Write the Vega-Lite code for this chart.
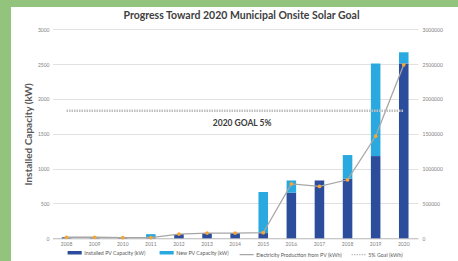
{
  "$schema": "https://vega.github.io/schema/vega-lite/v6.json",
  "width": 447,
  "height": 254,
  "autosize": {"type": "none"},
  "padding": {"left": 11, "top": 7, "right": 0, "bottom": 0},
  "background": "#93C47D",
  "config": {
    "font": "Lato",
    "view": {"fill": "white", "stroke": null},
    "axis": {"labelFont": "Lato", "titleFont": "Lato"}
  },
  "title": {
    "text": "Progress Toward 2020 Municipal Onsite Solar Goal",
    "fontSize": 10.5,
    "fontWeight": "bold",
    "color": "#404040",
    "anchor": "middle",
    "offset": -14,
    "dx": 7
  },
  "datasets": {
    "bars": [
      {"year": "2008", "series": "Installed PV Capacity (kW)", "kw": 15},
      {"year": "2009", "series": "Installed PV Capacity (kW)", "kw": 15},
      {"year": "2010", "series": "Installed PV Capacity (kW)", "kw": 10},
      {"year": "2011", "series": "Installed PV Capacity (kW)", "kw": 10},
      {"year": "2011", "series": "New PV Capacity (kW)", "kw": 50},
      {"year": "2012", "series": "Installed PV Capacity (kW)", "kw": 60},
      {"year": "2013", "series": "Installed PV Capacity (kW)", "kw": 75},
      {"year": "2014", "series": "Installed PV Capacity (kW)", "kw": 75},
      {"year": "2015", "series": "Installed PV Capacity (kW)", "kw": 75},
      {"year": "2015", "series": "New PV Capacity (kW)", "kw": 590},
      {"year": "2016", "series": "Installed PV Capacity (kW)", "kw": 655},
      {"year": "2016", "series": "New PV Capacity (kW)", "kw": 175},
      {"year": "2017", "series": "Installed PV Capacity (kW)", "kw": 830},
      {"year": "2018", "series": "Installed PV Capacity (kW)", "kw": 855},
      {"year": "2018", "series": "New PV Capacity (kW)", "kw": 340},
      {"year": "2019", "series": "Installed PV Capacity (kW)", "kw": 1180},
      {"year": "2019", "series": "New PV Capacity (kW)", "kw": 1330},
      {"year": "2020", "series": "Installed PV Capacity (kW)", "kw": 2510},
      {"year": "2020", "series": "New PV Capacity (kW)", "kw": 160}
    ],
    "production": [
      {"year": "2008", "series": "Electricity Production from PV (kWh)", "kwh": 15000},
      {"year": "2009", "series": "Electricity Production from PV (kWh)", "kwh": 15000},
      {"year": "2010", "series": "Electricity Production from PV (kWh)", "kwh": 10000},
      {"year": "2011", "series": "Electricity Production from PV (kWh)", "kwh": 10000},
      {"year": "2012", "series": "Electricity Production from PV (kWh)", "kwh": 60000},
      {"year": "2013", "series": "Electricity Production from PV (kWh)", "kwh": 75000},
      {"year": "2014", "series": "Electricity Production from PV (kWh)", "kwh": 75000},
      {"year": "2015", "series": "Electricity Production from PV (kWh)", "kwh": 80000},
      {"year": "2016", "series": "Electricity Production from PV (kWh)", "kwh": 780000},
      {"year": "2017", "series": "Electricity Production from PV (kWh)", "kwh": 745000},
      {"year": "2018", "series": "Electricity Production from PV (kWh)", "kwh": 840000},
      {"year": "2019", "series": "Electricity Production from PV (kWh)", "kwh": 1465000},
      {"year": "2020", "series": "Electricity Production from PV (kWh)", "kwh": 2490000}
    ],
    "goal": [
      {"year": "2008", "series": "5% Goal (kWh)", "kwh": 1830000},
      {"year": "2009", "series": "5% Goal (kWh)", "kwh": 1830000},
      {"year": "2010", "series": "5% Goal (kWh)", "kwh": 1830000},
      {"year": "2011", "series": "5% Goal (kWh)", "kwh": 1830000},
      {"year": "2012", "series": "5% Goal (kWh)", "kwh": 1830000},
      {"year": "2013", "series": "5% Goal (kWh)", "kwh": 1830000},
      {"year": "2014", "series": "5% Goal (kWh)", "kwh": 1830000},
      {"year": "2015", "series": "5% Goal (kWh)", "kwh": 1830000},
      {"year": "2016", "series": "5% Goal (kWh)", "kwh": 1830000},
      {"year": "2017", "series": "5% Goal (kWh)", "kwh": 1830000},
      {"year": "2018", "series": "5% Goal (kWh)", "kwh": 1830000},
      {"year": "2019", "series": "5% Goal (kWh)", "kwh": 1830000},
      {"year": "2020", "series": "5% Goal (kWh)", "kwh": 1830000}
    ],
    "note": [
      {"year": "2014", "kwh": 1660000, "label": "2020 GOAL 5%"}
    ]
  },
  "layer": [
    {
      "data": {"name": "bars"},
      "mark": {"type": "bar"},
      "encoding": {
        "x": {
          "field": "year",
          "type": "ordinal",
          "scale": {"range": [41.5, 406.8], "paddingInner": 0.66, "paddingOuter": 0.33},
          "axis": {
            "orient": "bottom",
            "offset": -22.7,
            "title": null,
            "labelAngle": 0,
            "labelFontSize": 5,
            "labelColor": "#808080",
            "labelPadding": 3,
            "ticks": false,
            "domainColor": "#BFBFBF",
            "domainWidth": 1,
            "grid": false
          }
        },
        "y": {
          "field": "kw",
          "type": "quantitative",
          "stack": "zero",
          "scale": {"domain": [0, 3000], "range": [231.3, 22.3], "nice": false, "zero": true},
          "axis": {
            "orient": "left",
            "offset": -41,
            "values": [0, 500, 1000, 1500, 2000, 2500, 3000],
            "format": "d",
            "title": "Installed Capacity (kW)",
            "titleFontSize": 10,
            "titleFontWeight": "bold",
            "titleColor": "#595959",
            "titlePadding": 4,
            "labelFontSize": 5,
            "labelColor": "#808080",
            "labelPadding": 3,
            "ticks": false,
            "domain": false,
            "grid": true,
            "gridColor": "#D9D9D9",
            "gridWidth": 0.8
          }
        },
        "color": {
          "field": "series",
          "type": "nominal",
          "scale": {
            "domain": ["Installed PV Capacity (kW)", "New PV Capacity (kW)", "Electricity Production from PV (kWh)", "5% Goal (kWh)"],
            "range": ["#2C4C9C", "#29A9E0", "#A6A6A6", "#BFBFBF"]
          },
          "legend": {
            "orient": "none",
            "legendX": 61,
            "legendY": 243,
            "direction": "horizontal",
            "columns": 4,
            "title": null,
            "labelFontSize": 5.3,
            "labelColor": "#595959",
            "labelOffset": 7,
            "columnPadding": 6,
            "symbolType": "stroke",
            "symbolSize": 200,
            "symbolStrokeWidth": 3.5,
            "encode": {
              "symbols": {
                "update": {
                  "stroke": {"signal": "scale('color', datum.value)"},
                  "strokeWidth": {"signal": "indexof(['Installed PV Capacity (kW)','New PV Capacity (kW)'], datum.value) >= 0 ? 3.5 : 1.3"},
                  "strokeDash": {"signal": "datum.value === '5% Goal (kWh)' ? [1.5, 1] : [1, 0]"}
                }
              }
            }
          }
        },
        "order": {"field": "series", "sort": "ascending"}
      }
    },
    {
      "layer": [
        {
          "data": {"name": "production"},
          "mark": {"type": "line", "strokeWidth": 1.3},
          "encoding": {
            "x": {"field": "year", "type": "ordinal"},
            "y": {
              "field": "kwh",
              "type": "quantitative",
              "scale": {"domain": [0, 3000000], "range": [231.3, 22.3], "nice": false},
              "axis": {
                "orient": "right",
                "offset": -40,
                "values": [0, 500000, 1000000, 1500000, 2000000, 2500000, 3000000],
                "format": "d",
                "title": null,
                "labelFontSize": 5,
                "labelColor": "#808080",
                "labelPadding": 4,
                "ticks": false,
                "domain": false,
                "grid": false
              }
            },
            "color": {"field": "series", "type": "nominal"}
          }
        },
        {
          "data": {"name": "production"},
          "mark": {"type": "point", "filled": true, "color": "#F4A535", "size": 14, "opacity": 1},
          "encoding": {
            "x": {"field": "year", "type": "ordinal"},
            "y": {"field": "kwh", "type": "quantitative"}
          }
        },
        {
          "data": {"name": "goal"},
          "mark": {"type": "line", "strokeWidth": 2.5, "strokeDash": [1.5, 1]},
          "encoding": {
            "x": {"field": "year", "type": "ordinal"},
            "y": {"field": "kwh", "type": "quantitative"},
            "color": {"field": "series", "type": "nominal"}
          }
        },
        {
          "data": {"name": "note"},
          "mark": {"type": "text", "fontSize": 8.5, "fontWeight": "bold", "color": "#3A3A3A", "dx": 7, "baseline": "middle", "align": "center"},
          "encoding": {
            "x": {"field": "year", "type": "ordinal"},
            "y": {"field": "kwh", "type": "quantitative"},
            "text": {"field": "label"}
          }
        }
      ]
    }
  ],
  "resolve": {"scale": {"y": "independent"}}
}
